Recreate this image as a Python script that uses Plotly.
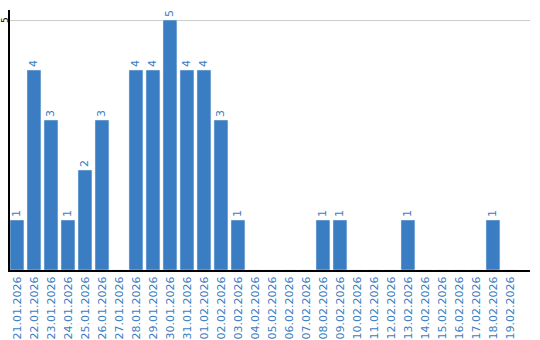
import plotly.graph_objects as go

dates = ["21.01.2026","22.01.2026","23.01.2026","24.01.2026","25.01.2026","26.01.2026","27.01.2026",
         "28.01.2026","29.01.2026","30.01.2026","31.01.2026","01.02.2026","02.02.2026","03.02.2026",
         "04.02.2026","05.02.2026","06.02.2026","07.02.2026","08.02.2026","09.02.2026","10.02.2026",
         "11.02.2026","12.02.2026","13.02.2026","14.02.2026","15.02.2026","16.02.2026","17.02.2026",
         "18.02.2026","19.02.2026"]
values = [1,4,3,1,2,3,0,4,4,5,4,4,3,1,0,0,0,0,1,1,0,0,0,1,0,0,0,0,1,0]
labels = [str(v) if v > 0 else "" for v in values]
ytick = 5

blue = "#3a7dc2"
fig = go.Figure(go.Bar(
    x=list(range(len(dates))), y=values, marker_color=blue,
    text=labels, textposition="outside", textangle=-90,
    textfont=dict(color=blue, size=11, family="DejaVu Sans"),
    cliponaxis=False,
))
fig.update_layout(
    width=540, height=340, margin=dict(l=10, r=10, t=10, b=70, autoexpand=False),
    plot_bgcolor="white", paper_bgcolor="white", showlegend=False,
    bargap=0.18,
    xaxis=dict(tickmode="array", tickvals=list(range(len(dates))), ticktext=dates,
               tickangle=-90, tickfont=dict(color=blue, size=11, family="DejaVu Sans"),
               range=[-0.41, 30.18], showline=True, linecolor="black", linewidth=2,
               showgrid=False, zeroline=False, ticks="", automargin=False),
    yaxis=dict(range=[0, 5.2], tickvals=[ytick], showticklabels=False, ticklen=0,
               showline=True, linecolor="black", linewidth=2, automargin=False,
               gridcolor="#cccccc", zeroline=False),
)
fig.add_annotation(x=-5/520, xref="paper", y=ytick, yref="y", text=str(ytick),
                   showarrow=False, textangle=-90, xanchor="center", yanchor="middle",
                   font=dict(color="black", size=9, family="DejaVu Sans"))
fig.write_html("out.html")
